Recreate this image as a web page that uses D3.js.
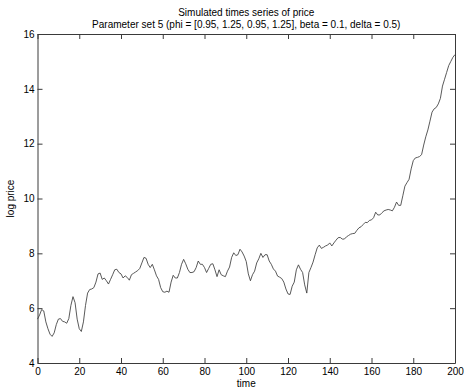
<!DOCTYPE html>
<html>
<head>
<meta charset="utf-8">
<script src="https://cdn.jsdelivr.net/npm/d3@7"></script>
<style>
  html, body { margin: 0; padding: 0; background: #fff; }
  svg { display: block; font-family: "Liberation Sans", Arial, Helvetica, sans-serif; }
</style>
</head>
<body>
<svg id="chart" width="464" height="392"></svg>
<script>
// Simulated log price, one value per time step 0..200
const logPrice = [
  5.6, 5.75, 5.95, 5.9, 5.5, 5.25, 5.05, 4.97, 5.1, 5.4,
  5.6, 5.62, 5.52, 5.5, 5.45, 5.62, 6.1, 6.42, 6.2, 5.6,
  5.25, 5.15, 5.5, 6.1, 6.55, 6.68, 6.7, 6.75, 6.95, 7.25,
  7.28, 7.05, 7.1, 7.0, 6.88, 7.05, 7.22, 7.4, 7.42, 7.3,
  7.25, 7.1, 7.18, 7.12, 7.02, 7.22, 7.27, 7.32, 7.37, 7.45,
  7.65, 7.85, 7.82, 7.6, 7.48, 7.6, 7.4, 7.18, 7.05, 6.75,
  6.6, 6.58, 6.62, 6.58, 6.95, 7.2, 7.1, 7.1, 7.3, 7.6,
  7.78, 7.62, 7.42, 7.3, 7.3, 7.33, 7.48, 7.72, 7.6, 7.6,
  7.48, 7.3, 7.45, 7.6, 7.62, 7.4, 7.15, 7.4, 7.22, 7.18,
  7.15, 7.35, 7.5, 7.85, 8.02, 7.92, 7.95, 8.15, 8.05, 7.9,
  7.7, 7.25, 7.0, 7.22, 7.35, 7.65, 7.8, 8.0, 7.85, 7.95,
  7.95, 7.72, 7.6, 7.43, 7.35, 7.17, 7.13, 7.08, 6.95, 6.7,
  6.52, 6.5, 6.8, 6.95, 7.4, 7.58, 7.42, 7.3, 6.85, 6.55,
  7.3, 7.48, 7.68, 7.95, 8.2, 8.3, 8.18, 8.22, 8.27, 8.3,
  8.38, 8.27, 8.38, 8.48, 8.57, 8.58, 8.52, 8.52, 8.6, 8.65,
  8.7, 8.72, 8.73, 8.84, 8.93, 8.97, 9.05, 9.13, 9.12, 9.2,
  9.22, 9.3, 9.5, 9.4, 9.4, 9.48, 9.55, 9.58, 9.6, 9.58,
  9.55, 9.68, 9.87, 9.75, 9.75, 10.1, 10.45, 10.58, 10.7, 11.08,
  11.38, 11.48, 11.5, 11.53, 11.6, 11.95, 12.25, 12.5, 12.82, 13.15,
  13.27, 13.32, 13.45, 13.65, 14.1, 14.35, 14.6, 14.85, 15.0, 15.15,
  15.25
];
const timeSteps = logPrice.map((_, i) => i);

const xTicks = [0, 20, 40, 60, 80, 100, 120, 140, 160, 180, 200];
const yTicks = [4, 6, 8, 10, 12, 14, 16];

const titleLines = [
  "Simulated times series of price",
  "Parameter set 5 (phi = [0.95, 1.25, 0.95, 1.25], beta = 0.1, delta = 0.5)"
];
const xLabel = "time";
const yLabel = "log price";

const svg = d3.select("#chart");
const plotLeft = 37.5, plotRight = 455, plotTop = 34, plotBottom = 363;

const x = d3.scaleLinear().domain([0, 200]).range([plotLeft, plotRight]);
const y = d3.scaleLinear().domain([4, 16]).range([plotBottom, plotTop]);

const axisColor = "#3a3a3a";
function styleAxis(g) {
  g.select(".domain").attr("stroke", axisColor);
  g.selectAll(".tick line").attr("stroke", axisColor);
  g.selectAll(".tick text").attr("fill", "#000").attr("font-size", 10)
    .attr("font-family", "'Liberation Sans', Arial, sans-serif");
}

// bottom axis with inward ticks
svg.append("g").attr("transform", `translate(0,${plotBottom})`)
  .call(d3.axisBottom(x).tickValues(xTicks).tickSizeInner(-5).tickSizeOuter(0).tickPadding(5))
  .call(styleAxis);
// top axis (box edge)
svg.append("g").attr("transform", `translate(0,${plotTop})`)
  .call(d3.axisTop(x).tickValues(xTicks).tickSizeInner(-5).tickSizeOuter(0).tickFormat(""))
  .call(styleAxis);
// left axis
svg.append("g").attr("transform", `translate(${plotLeft},0)`)
  .call(d3.axisLeft(y).tickValues(yTicks).tickSizeInner(-5).tickSizeOuter(0).tickPadding(3))
  .call(styleAxis);
// right axis (box edge)
svg.append("g").attr("transform", `translate(${plotRight},0)`)
  .call(d3.axisRight(y).tickValues(yTicks).tickSizeInner(-5).tickSizeOuter(0).tickFormat(""))
  .call(styleAxis);

// price path
const line = d3.line().x((d, i) => x(timeSteps[i])).y(d => y(d));
svg.append("path")
  .datum(logPrice)
  .attr("fill", "none")
  .attr("stroke", "#3c3c3c")
  .attr("stroke-width", 0.85)
  .attr("stroke-linejoin", "round")
  .attr("d", line);

// titles
const cx = (plotLeft + plotRight) / 2;
svg.selectAll("text.title").data(titleLines).enter().append("text")
  .attr("class", "title")
  .attr("x", cx)
  .attr("y", (d, i) => 16 + i * 11.5)
  .attr("text-anchor", "middle")
  .attr("font-size", 10)
  .attr("fill", "#000")
  .text(d => d);

svg.append("text")
  .attr("x", cx).attr("y", 387)
  .attr("text-anchor", "middle")
  .attr("font-size", 10)
  .text(xLabel);

svg.append("text")
  .attr("transform", `translate(14,${(plotTop + plotBottom) / 2}) rotate(-90)`)
  .attr("text-anchor", "middle")
  .attr("font-size", 10)
  .text(yLabel);
</script>
</body>
</html>
